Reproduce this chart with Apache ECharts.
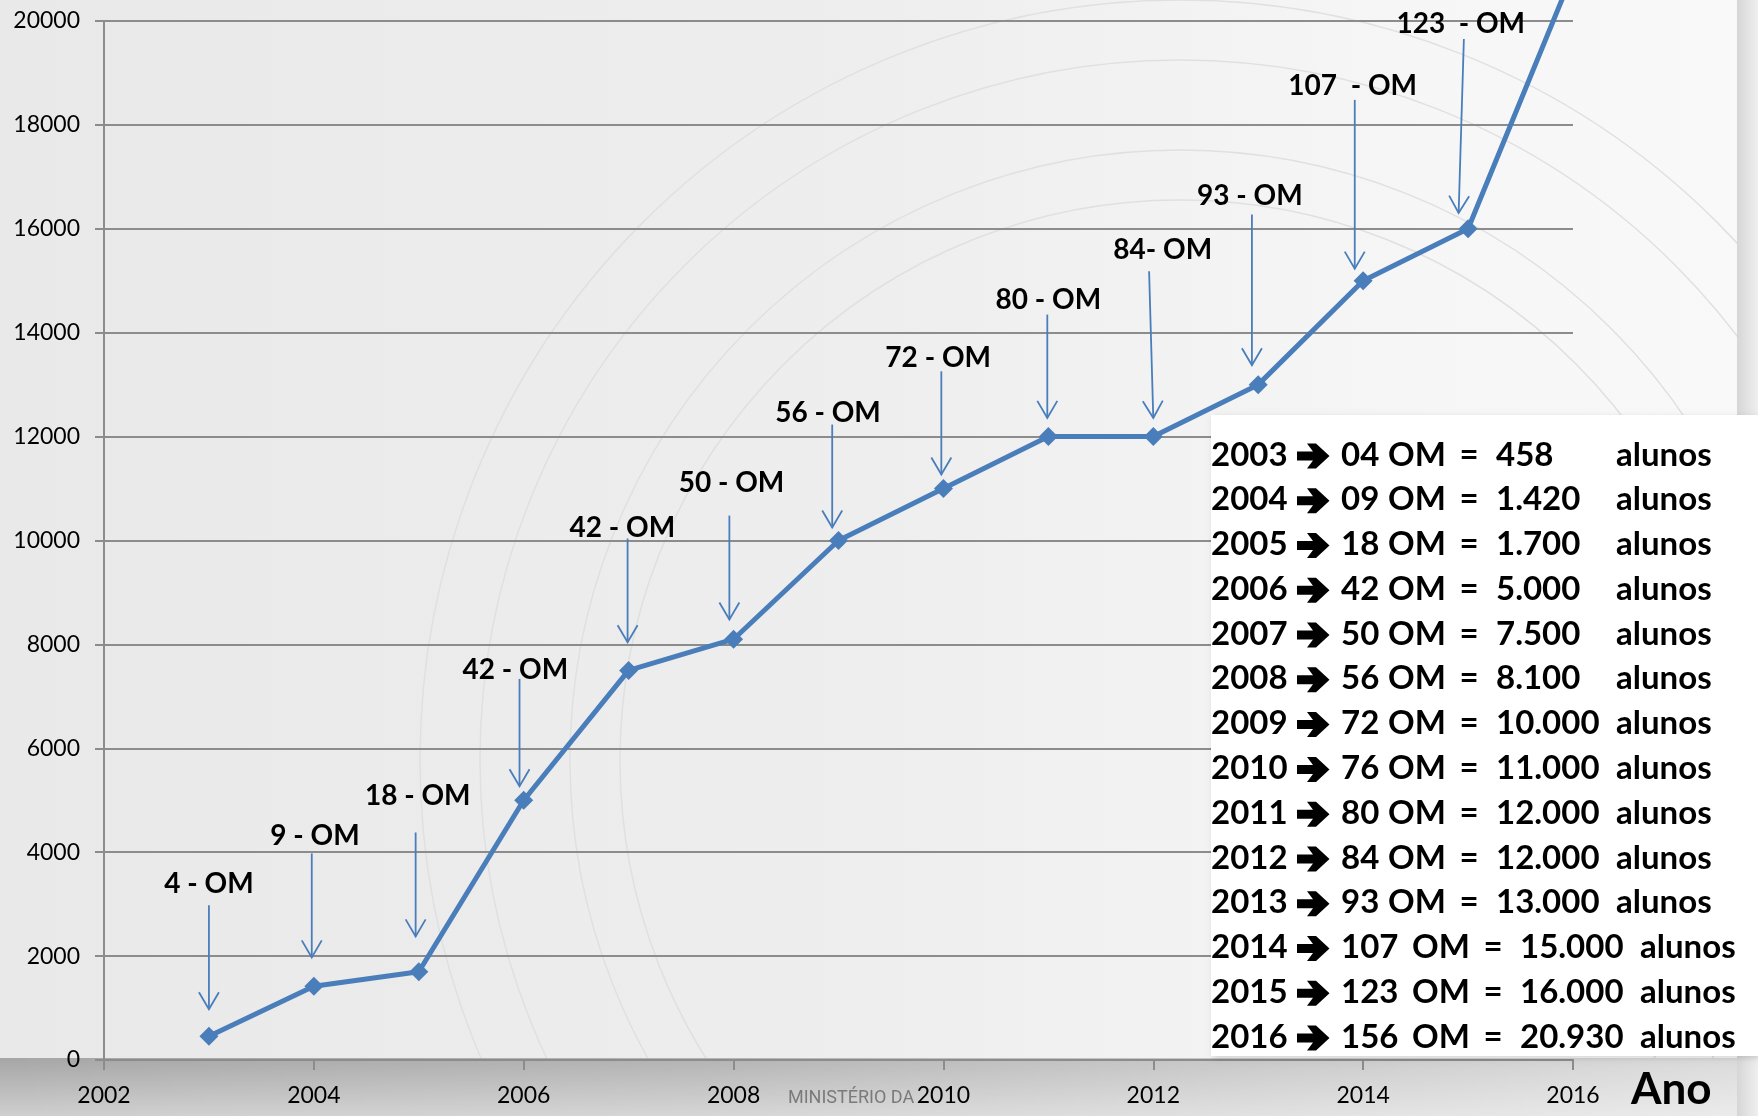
<!DOCTYPE html>
<html>
<head>
<meta charset="utf-8">
<script src="https://cdn.jsdelivr.net/npm/echarts@6/dist/echarts.min.js"></script>
<style>
  html, body { margin: 0; padding: 0; }
  #chart { width: 1758px; height: 1116px; }
</style>
</head>
<body>
<div id="chart"></div>
<script>
// alunos por ano
const years = [2003, 2004, 2005, 2006, 2007, 2008, 2009, 2010, 2011, 2012, 2013, 2014, 2015, 2016];
const alunos = [458, 1420, 1700, 5000, 7500, 8100, 10000, 11000, 12000, 12000, 13000, 15000, 16000, 20930];

// anotacoes "OM" com setas (em unidades do grafico)
const annoText = ['4 - OM', '9 - OM', '18 - OM', '42 - OM', '42 - OM', '50 - OM', '56 - OM', '72 - OM', '80 - OM', '84- OM', '93 - OM', '107  - OM', '123  - OM'];
const annoTextX = [2003.00, 2004.01, 2004.99, 2005.92, 2006.94, 2007.98, 2008.90, 2009.95, 2011.00, 2012.09, 2012.92, 2013.90, 2014.93];
const annoTextY = [3398, 4303, 5092, 7509, 10249, 11106, 12462, 13506, 14628, 15598, 16640, 18750, 19935];
const arrowTopX = [2003.00, 2003.98, 2004.97, 2005.96, 2006.99, 2007.96, 2008.94, 2009.98, 2010.99, 2011.96, 2012.94, 2013.92, 2014.96];
const arrowTopY = [2977, 3976, 4380, 7336, 10038, 10480, 12232, 13257, 14349, 15182, 16273, 18481, 19654];
const arrowTipX = [2003.00, 2003.98, 2004.97, 2005.96, 2006.99, 2007.96, 2008.94, 2009.98, 2010.99, 2012.00, 2012.94, 2013.92, 2014.91];
const arrowTipY = [976, 1975, 2379, 5271, 8042, 8479, 10249, 11270, 12360, 12360, 13373, 15233, 16305];

// tabela da direita
const tabYear = ['2003', '2004', '2005', '2006', '2007', '2008', '2009', '2010', '2011', '2012', '2013', '2014', '2015', '2016'];
const tabOM = ['04', '09', '18', '42', '50', '56', '72', '76', '80', '84', '93', '107', '123', '156'];
const tabAlunos = ['458', '1.420', '1.700', '5.000', '7.500', '8.100', '10.000', '11.000', '12.000', '12.000', '13.000', '15.000', '16.000', '20.930'];

const blue = '#4a7ebb';
const gridGray = '#8c8c8c';

let myChart = echarts.init(document.getElementById('chart'));

// fundo, faixa inferior e marca d'agua
let bg = [
  {
    type: 'rect', z: -10, silent: true,
    shape: { x: 0, y: 0, width: 1758, height: 1116 },
    style: {
      fill: new echarts.graphic.LinearGradient(0, 0, 1, 0, [
        { offset: 0, color: '#e9e9e9' },
        { offset: 0.5, color: '#eeeeee' },
        { offset: 0.8, color: '#f6f6f6' },
        { offset: 1, color: '#f9f9f9' }
      ])
    }
  }
];
[560, 610, 700, 760].forEach(r => {
  bg.push({
    type: 'circle', z: -9, silent: true,
    shape: { cx: 1180, cy: 760, r: r },
    style: { fill: null, stroke: '#e0e0e0', lineWidth: 1.5 }
  });
});
bg.push(
  {
    type: 'rect', z: -8, silent: true,
    shape: { x: 0, y: 1058, width: 1758, height: 58 },
    style: {
      fill: new echarts.graphic.LinearGradient(0, 0, 0, 1, [
        { offset: 0, color: '#a6a6a6' },
        { offset: 1, color: '#cfcfcf' }
      ])
    }
  },
  {
    type: 'rect', z: -7, silent: true,
    shape: { x: 0, y: 1058, width: 1758, height: 58 },
    style: {
      fill: new echarts.graphic.LinearGradient(0, 0, 1, 0, [
        { offset: 0, color: 'rgba(255,255,255,0)' },
        { offset: 0.4, color: 'rgba(255,255,255,0.15)' },
        { offset: 1, color: 'rgba(255,255,255,0.6)' }
      ])
    }
  },
  {
    type: 'text', z: -6, silent: true,
    style: {
      x: 788, y: 1098, text: 'MINISTÉRIO DA', fill: '#7a7a7a',
      font: '18px Roboto', verticalAlign: 'middle'
    }
  },
  {
    type: 'rect', z: -6, silent: true,
    shape: { x: 1737, y: 0, width: 21, height: 1116 },
    style: {
      fill: new echarts.graphic.LinearGradient(0, 0, 1, 0, [
        { offset: 0, color: '#d6d6d6' },
        { offset: 1, color: '#efefef' }
      ])
    }
  }
);

// caixa branca com a tabela
let table = [
  {
    type: 'rect', z: 20, silent: true,
    shape: { x: 1211, y: 415, width: 547, height: 641 },
    style: { fill: '#ffffff', shadowBlur: 6, shadowColor: 'rgba(0,0,0,0.15)', shadowOffsetX: 2, shadowOffsetY: 2 }
  }
];
const rowFont = 'bold 33px Lato';
tabYear.forEach((y, i) => {
  const cy = 455 + i * 44.77;
  const wide = tabOM[i].length > 2 ? 24 : 0;
  const parts = [
    { t: y, x: 1211, align: 'left' },
    { t: tabOM[i], x: 1341, align: 'left' },
    { t: 'OM', x: 1388 + wide, align: 'left' },
    { t: '=', x: 1469 + wide, align: 'center' },
    { t: tabAlunos[i], x: 1496 + wide, align: 'left' },
    { t: 'alunos', x: 1616 + wide, align: 'left' }
  ];
  parts.forEach(p => {
    table.push({
      type: 'text', z: 21, silent: true,
      style: {
        x: p.x, y: cy, text: p.t, fill: '#000',
        font: rowFont, align: p.align, verticalAlign: 'middle'
      }
    });
  });
  // seta grossa
  table.push({
    type: 'polygon', z: 21, silent: true,
    x: 1313, y: cy + 1,
    shape: {
      points: [[-16, -4.5], [0, -4.5], [-6, -12.5], [3, -12.5], [16.5, 0], [3, 12.5], [-6, 12.5], [0, 4.5], [-16, 4.5]]
    },
    style: { fill: '#000' }
  });
});
table.push({
  type: 'text', z: 21, silent: true,
  style: { x: 1631, y: 1090, text: 'Ano', fill: '#000', font: 'bold 44px Lato', verticalAlign: 'middle' }
});

myChart.setOption({
  animation: false,
  textStyle: { fontFamily: 'Lato' },
  graphic: { elements: bg.concat(table) },
  grid: { left: 104, right: 185, top: 21, bottom: 56 },
  xAxis: {
    type: 'value',
    min: 2002,
    max: 2016,
    interval: 2,
    axisLine: { lineStyle: { color: gridGray, width: 2 } },
    axisTick: { show: true, length: 10, lineStyle: { color: gridGray, width: 2 } },
    splitLine: { show: false },
    axisLabel: { color: '#000', fontSize: 23, margin: 24, formatter: v => String(v) }
  },
  yAxis: {
    type: 'value',
    min: 0,
    max: 20000,
    interval: 2000,
    axisLine: { show: true, lineStyle: { color: gridGray, width: 2 } },
    axisTick: { show: true, length: 9, lineStyle: { color: gridGray, width: 2 } },
    splitLine: { lineStyle: { color: gridGray, width: 2 } },
    axisLabel: { color: '#000', fontSize: 23, margin: 24, formatter: v => String(v) }
  },
  series: [
    {
      type: 'line',
      clip: false,
      data: years.map((y, i) => [y, alunos[i]]),
      symbol: 'diamond',
      symbolSize: 19,
      itemStyle: { color: blue },
      lineStyle: { color: blue, width: 5 },
      z: 3
    },
    {
      type: 'custom',
      z: 4,
      data: annoText.map((t, i) => [arrowTipX[i], arrowTipY[i]]),
      renderItem: function (params, api) {
        const i = params.dataIndex;
        const top = api.coord([arrowTopX[i], arrowTopY[i]]);
        const tip = api.coord([arrowTipX[i], arrowTipY[i]]);
        const txt = api.coord([annoTextX[i], annoTextY[i]]);
        let dx = tip[0] - top[0], dy = tip[1] - top[1];
        const len = Math.sqrt(dx * dx + dy * dy);
        dx /= len; dy /= len;
        const px = -dy, py = dx;
        const back = 17, half = 10;
        return {
          type: 'group',
          children: [
            {
              type: 'line',
              shape: { x1: top[0], y1: top[1], x2: tip[0], y2: tip[1] },
              style: { stroke: blue, lineWidth: 1.8 }
            },
            {
              type: 'polyline',
              shape: {
                points: [
                  [tip[0] - dx * back + px * half, tip[1] - dy * back + py * half],
                  [tip[0], tip[1]],
                  [tip[0] - dx * back - px * half, tip[1] - dy * back - py * half]
                ]
              },
              style: { stroke: blue, lineWidth: 1.8, fill: null }
            },
            {
              type: 'text',
              style: {
                x: txt[0], y: txt[1], text: annoText[i], fill: '#000',
                font: 'bold 28px Lato', align: 'center', verticalAlign: 'middle'
              }
            }
          ]
        };
      }
    }
  ]
});
</script>
</body>
</html>
